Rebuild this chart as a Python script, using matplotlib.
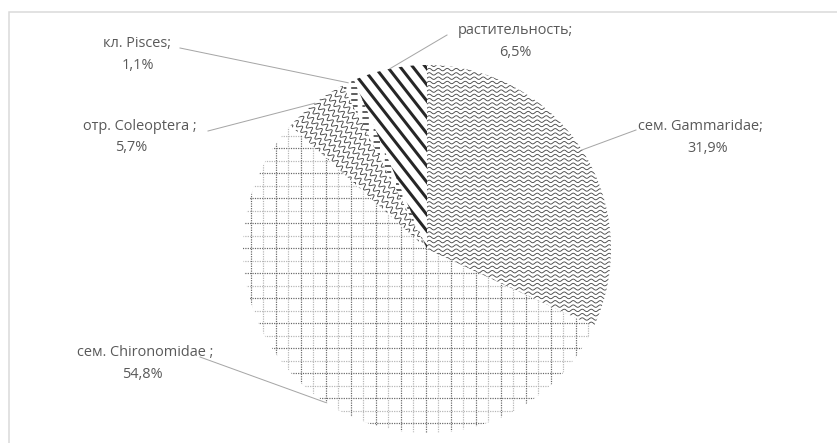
import numpy as np
import matplotlib
matplotlib.use('Agg')
import matplotlib.pyplot as plt
from matplotlib.collections import LineCollection
from matplotlib.patches import Rectangle

W, H = 837, 443
DPI = 72

# diet composition, share of items (%)
names = ['сем. Gammaridae;', 'сем. Chironomidae ;', 'отр. Coleoptera ;',
         'кл. Pisces;', 'растительность;']
shares = [31.9, 54.8, 5.7, 1.1, 6.5]

# layout in pixels from the top-left corner: first line, second line, leader start
label_pos = [
    ((700, 126), (708, 148), (636, 130)),
    ((145, 353), (142, 374), (200, 357)),
    ((140, 126), (131, 147), (208, 131)),
    ((137, 43), (138, 65), (180, 48)),
    ((515, 30), (515, 52), (447, 35)),
]
center = (427, H - 249)
radius = 184

TEXT = '#595959'
LEADER = '#a6a6a6'
FONT = ['Open Sans', 'DejaVu Sans']


def pct(v):
    return '{:.1f}'.format(v).replace('.', ',') + '%'


def stripes(angle, spacing, amp=0.0, period=10.0, offset=0.0):
    # parallel (optionally wavy) lines covering the whole pie
    a = np.radians(angle)
    d = np.array([np.cos(a), np.sin(a)])
    n = np.array([-np.sin(a), np.cos(a)])
    R = radius + 15
    t = np.arange(-R, R, 0.5)
    lines = []
    for off in np.arange(-R + offset, R, spacing):
        wave = off + amp * np.sin(2 * np.pi * t / period)
        pts = np.array(center) + np.outer(t, d) + np.outer(wave, n)
        lines.append(pts)
    return lines


def add_texture(ax, wedge, lines, **kw):
    lc = LineCollection(lines, **kw)
    lc.set_clip_path(wedge)
    lc.set_zorder(3)
    ax.add_collection(lc)


fig = plt.figure(figsize=(W / DPI, H / DPI), dpi=DPI)
ax = fig.add_axes([0, 0, 1, 1])
wedges, _ = ax.pie(shares, startangle=90, counterclock=False, center=center,
                   radius=radius, colors=['white'] * len(shares),
                   wedgeprops=dict(edgecolor='none'))
ax.set_xlim(0, W)
ax.set_ylim(0, H)
ax.set_aspect('equal')
ax.axis('off')

# Gammaridae: small waves
add_texture(ax, wedges[0], stripes(0, 4.3, amp=1.2, period=9),
            colors='#4a4a4a', linewidths=0.9)
# Chironomidae: dotted grid
rows = stripes(0, 12.5)
shade = ['#666666' if i % 2 == 0 else '#b5b5b5' for i in range(len(rows))]
add_texture(ax, wedges[1], rows + stripes(90, 12.5), colors=shade * 2,
            linewidths=1.2, linestyles=(0, (1, 1)))
# Coleoptera: scales
add_texture(ax, wedges[2], stripes(128, 7, amp=2.5, period=7),
            colors='#444444', linewidths=0.9)
# Pisces: dashes
add_texture(ax, wedges[3], stripes(0, 6), colors='#3a3a3a', linewidths=1.6,
            linestyles=(0, (4, 3)))
# vegetation: bold diagonal stripes
add_texture(ax, wedges[4], stripes(-52, 10), colors='#262626', linewidths=3.0)

for w, name, v, (p1, p2, start) in zip(wedges, names, shares, label_pos):
    mid = np.radians((w.theta1 + w.theta2) / 2)
    end = (center[0] + radius * np.cos(mid), center[1] + radius * np.sin(mid))
    ax.plot([start[0], end[0]], [H - start[1], end[1]], color=LEADER, lw=1.0,
            zorder=4)
    ax.text(p1[0], H - p1[1], name, ha='center', va='center', fontsize=14.5,
            color=TEXT, family=FONT)
    ax.text(p2[0], H - p2[1], pct(v), ha='center', va='center', fontsize=14.5,
            color=TEXT, family=FONT)

ax.add_patch(Rectangle((9, -20), W, H - 12 + 20, fill=False, ec='#d9d9d9',
                       lw=1.5, clip_on=False))

fig.savefig('out.png', dpi=DPI)
